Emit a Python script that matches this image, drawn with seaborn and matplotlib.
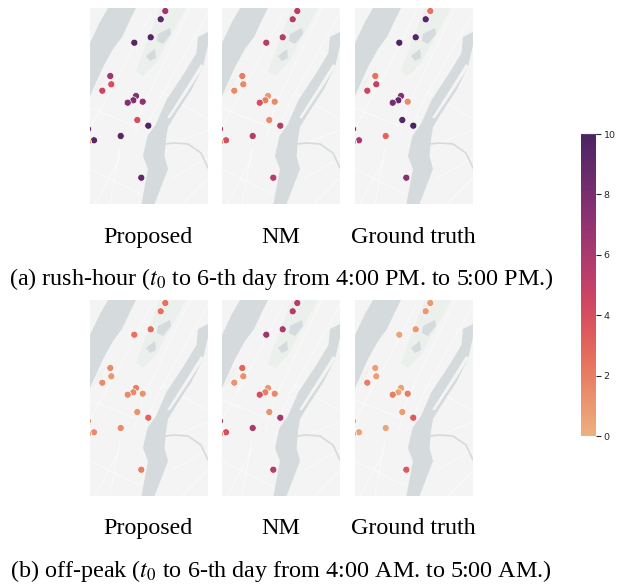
import matplotlib
matplotlib.use('Agg')
import matplotlib.pyplot as plt
from matplotlib.patches import Polygon
import seaborn as sns
import pandas as pd

W, H = 618, 585

# station positions, in pixels of one map panel (118 x 196)
station_x = [75.3, 70.7, 60.7, 44.3, 20.3, 21.3, 12.3, 46.0, 43.3, 37.7, 52.7, 47.3, 58.3, 30.7, 4.0, 51.3, -2.0, -2.0]
station_y = [3.0, 11.3, 29.3, 34.7, 68.0, 76.3, 82.7, 88.0, 92.3, 94.7, 93.7, 112.0, 117.7, 128.0, 132.3, 169.7, 121.0, 134.0]

# demand per station, same order. top row = rush-hour, bottom = off-peak
rush_proposed = [6.5, 9.2, 9.5, 9.5, 6.5, 4.0, 4.5, 7.5, 7.8, 7.5, 7.0, 4.0, 9.8, 9.5, 9.5, 9.0, 9.0, 0.5]
rush_nm = [5.5, 5.5, 5.5, 5.5, 2.0, 1.5, 1.5, 1.0, 2.0, 4.0, 1.5, 1.5, 5.5, 5.5, 4.0, 5.5, 5.5, 1.0]
rush_truth = [2.5, 9.5, 9.5, 9.8, 2.5, 5.0, 4.5, 7.5, 9.2, 8.0, 1.5, 9.5, 10.0, 3.0, 6.0, 7.5, 8.0, 0.5]
off_proposed = [2.5, 2.5, 2.8, 2.5, 1.5, 1.0, 1.5, 2.0, 1.5, 1.5, 1.2, 1.2, 3.0, 1.5, 1.5, 2.0, 1.0, 0.5]
off_nm = [5.5, 5.5, 6.0, 6.5, 3.0, 1.3, 1.2, 1.0, 2.0, 4.0, 1.5, 1.2, 6.2, 6.0, 4.0, 5.5, 6.0, 1.0]
off_truth = [1.0, 1.0, 1.0, 0.5, 0.7, 0.7, 2.0, 0.7, 0.5, 2.0, 2.0, 0.8, 3.5, 0.5, 0.6, 3.5, 1.0, 0.5]

column_labels = ['Proposed', 'NM', 'Ground truth']
caption_a = r'(a) rush-hour ($t_0$ to 6-th day from 4:00 PM. to 5:00 PM.)'
caption_b = r'(b) off-peak ($t_0$ to 6-th day from 4:00 AM. to 5:00 AM.)'

# base map shapes
hudson = [(18, 0), (46, 0), (40, 12), (32, 29), (23, 41), (13, 59), (0, 88), (0, 35), (10, 14)]
east_river = [(51.5, 196), (58, 161), (53, 148), (57.5, 128), (66, 116), (76.5, 92), (95, 64), (106.5, 45), (108, 29),
              (118, 24), (118, 37), (113, 59), (101.5, 82), (86.5, 105), (78, 119), (76, 131), (74.5, 148), (78, 161), (64.5, 196)]
roosevelt = [(111, 56), (114, 58), (100, 80), (80, 110), (77, 110), (96, 80)]
park = [(70, 0), (96, 0), (66, 55), (53, 68), (46, 63)]
reservoir = [(68, 26), (80, 20), (81, 26), (73, 36), (67, 33)]
pond = [(56, 48), (65, 41), (66, 50), (60, 53)]
creek = [(74.7, 136), (84.7, 135), (98, 136), (111, 145), (118, 160)]
roads = [[(73, 85), (118, 111)], [(63, 116), (76, 128)], [(0, 161), (51, 186)], [(61, 5), (34, 58), (0, 120)],
         [(100, 0), (52, 100), (44, 130)], [(118, 5), (70, 90), (60, 112)], [(30, 140), (20, 196)], [(82, 170), (118, 150)],
         [(118, 170), (92, 196)], [(0, 100), (45, 118)], [(85, 135), (118, 122)], [(5, 196), (30, 150)]]
piers = [[(2, 86), (9, 80)], [(4, 82), (11, 76)], [(6, 78), (13, 72)], [(8, 74), (15, 68)]]

land_color = '#f3f4f3'
water_color = '#d5dadc'
park_color = '#ebf0ec'
dot_palette = sns.color_palette('flare', as_cmap=True)

sns.set_theme(style='white')
plt.rcParams['font.family'] = ['Liberation Serif', 'DejaVu Serif']
plt.rcParams['mathtext.fontset'] = 'stix'

fig = plt.figure(figsize=(W / 100, H / 100), dpi=100, facecolor='white')


def draw_panel(left, top, values):
    ax = fig.add_axes([left / W, 1 - (top + 196) / H, 118 / W, 196 / H])
    ax.set_facecolor(land_color)
    for road in roads:
        ax.plot([p[0] for p in road], [p[1] for p in road], color='white', lw=0.5, alpha=0.8, zorder=1)
    ax.add_patch(Polygon(park, color=park_color, lw=0, zorder=1.5))
    for shape in [hudson, east_river, reservoir, pond]:
        ax.add_patch(Polygon(shape, color=water_color, lw=0, zorder=2))
    ax.add_patch(Polygon(roosevelt, color=land_color, lw=0, zorder=2.1))
    ax.plot([p[0] for p in creek], [p[1] for p in creek], color=water_color, lw=1.2, zorder=2)
    for pier in piers:
        ax.plot([p[0] for p in pier], [p[1] for p in pier], color='#eceeee', lw=0.6, zorder=2.1)
    df = pd.DataFrame({'x': station_x, 'y': station_y, 'demand': values})
    sns.scatterplot(data=df, x='x', y='y', hue='demand', palette=dot_palette, hue_norm=(0, 10),
                    s=26, edgecolor='white', linewidth=0.5, legend=False, ax=ax, zorder=3)
    ax.set_xlim(0, 118)
    ax.set_ylim(196, 0)
    ax.set_xticks([])
    ax.set_yticks([])
    ax.set_xlabel('')
    ax.set_ylabel('')
    sns.despine(ax=ax, left=True, bottom=True)


lefts = [90, 222, 355]
centers = [148, 281, 413]
rows = [(8, [rush_proposed, rush_nm, rush_truth], 243, caption_a, 285),
        (300, [off_proposed, off_nm, off_truth], 534, caption_b, 577)]
for top, panels, label_y, caption, caption_y in rows:
    for left, center, values, label in zip(lefts, centers, panels, column_labels):
        draw_panel(left, top, values)
        fig.text(center / W, 1 - label_y / H, label, fontsize=17.3, color='black', ha='center', va='baseline')
    fig.text(281 / W, 1 - caption_y / H, caption, fontsize=17.4, color='black', ha='center', va='baseline')

cax = fig.add_axes([581 / W, 1 - 436 / H, 15 / W, 302 / H])
sm = plt.cm.ScalarMappable(cmap=dot_palette, norm=plt.Normalize(0, 10))
cb = fig.colorbar(sm, cax=cax, ticks=[0, 2, 4, 6, 8, 10])
cb.outline.set_visible(False)
cb.ax.axhline(10, color='#5a3a78', lw=0.8, clip_on=False)
cb.ax.tick_params(labelsize=6.8, length=3.5, width=0.8, color='#262626', labelcolor='#262626', pad=2)
for t in cb.ax.get_yticklabels():
    t.set_fontfamily('DejaVu Sans')

fig.savefig('out.png', dpi=100)
